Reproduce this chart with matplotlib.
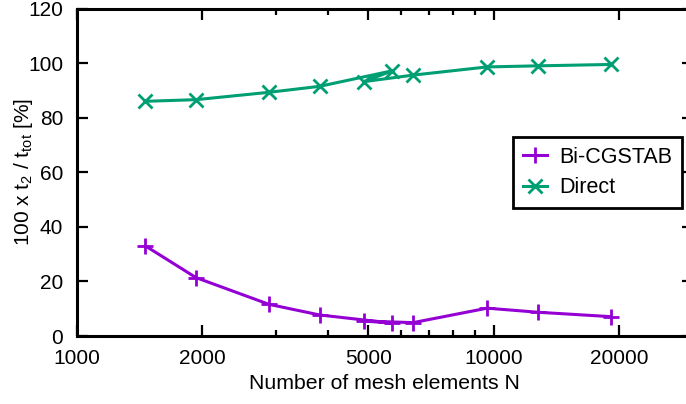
import matplotlib
matplotlib.use("Agg")
import matplotlib.pyplot as plt
from matplotlib.ticker import FixedLocator, NullFormatter

plt.rcParams['font.family'] = ['Liberation Sans', 'DejaVu Sans']
plt.rcParams['mathtext.fontset'] = 'custom'
plt.rcParams['mathtext.rm'] = 'Liberation Sans'
plt.rcParams['mathtext.it'] = 'Liberation Sans'

# data (file order as plotted)
n_elements = [1460, 1930, 2890, 3825, 5715, 4878, 6404, 9643, 12785, 19070]
bicgstab = [33.0, 21.4, 11.6, 7.7, 4.7, 5.5, 4.9, 10.2, 8.7, 7.1]
direct = [86.0, 86.6, 89.3, 91.5, 97.2, 93.2, 95.6, 98.6, 99.0, 99.5]

xticks = [1000, 2000, 5000, 10000, 20000]
xticklabels = ['1000', '2000', '5000', '10000', '20000']
xminor = [3000, 4000, 6000, 7000, 8000, 9000]
yticks = [0, 20, 40, 60, 80, 100, 120]

purple = '#9400D3'
green = '#009E73'

fig = plt.figure(figsize=(6.86, 4.04), dpi=100)
ax = fig.add_axes([0.1122, 0.1683, 0.8974, 0.8106])

ax.plot(n_elements, bicgstab, color=purple, lw=2.2, marker='+', ms=12, mew=2.0,
        label='Bi-CGSTAB')
ax.plot(n_elements, direct, color=green, lw=2.2, marker='x', ms=10, mew=2.0,
        label='Direct')

ax.set_xscale('log')
ax.set_xlim(1000, 30000)
ax.set_ylim(0, 120)
ax.xaxis.set_major_locator(FixedLocator(xticks))
ax.set_xticklabels(xticklabels)
ax.xaxis.set_minor_locator(FixedLocator(xminor))
ax.xaxis.set_minor_formatter(NullFormatter())
ax.set_yticks(yticks)
ax.yaxis.set_minor_locator(FixedLocator([]))

for s in ax.spines.values():
    s.set_linewidth(2.2)

ax.tick_params(which='both', direction='in', top=True, right=True,
               labelsize=15, width=1.6)
ax.tick_params(which='major', length=8)
ax.tick_params(which='minor', length=4.5)
ax.tick_params(axis='x', which='major', pad=9)
ax.tick_params(axis='y', which='major', pad=10)

ax.set_xlabel('Number of mesh elements N', fontsize=15.3, labelpad=5)
ax.set_ylabel('100 x t$_\\mathregular{2}$ / t$_\\mathregular{tot}$ [%]', fontsize=15, labelpad=-5)

leg = ax.legend(loc='upper left', bbox_to_anchor=(0.709, 0.608), borderaxespad=0,
                fontsize=15.5, frameon=True, fancybox=False, handlelength=1.1,
                handletextpad=0.6, borderpad=0.45, labelspacing=0.45)
leg.get_frame().set_edgecolor('black')
leg.get_frame().set_linewidth(2.0)
leg.get_frame().set_alpha(1)

fig.savefig('out.png', dpi=100)
